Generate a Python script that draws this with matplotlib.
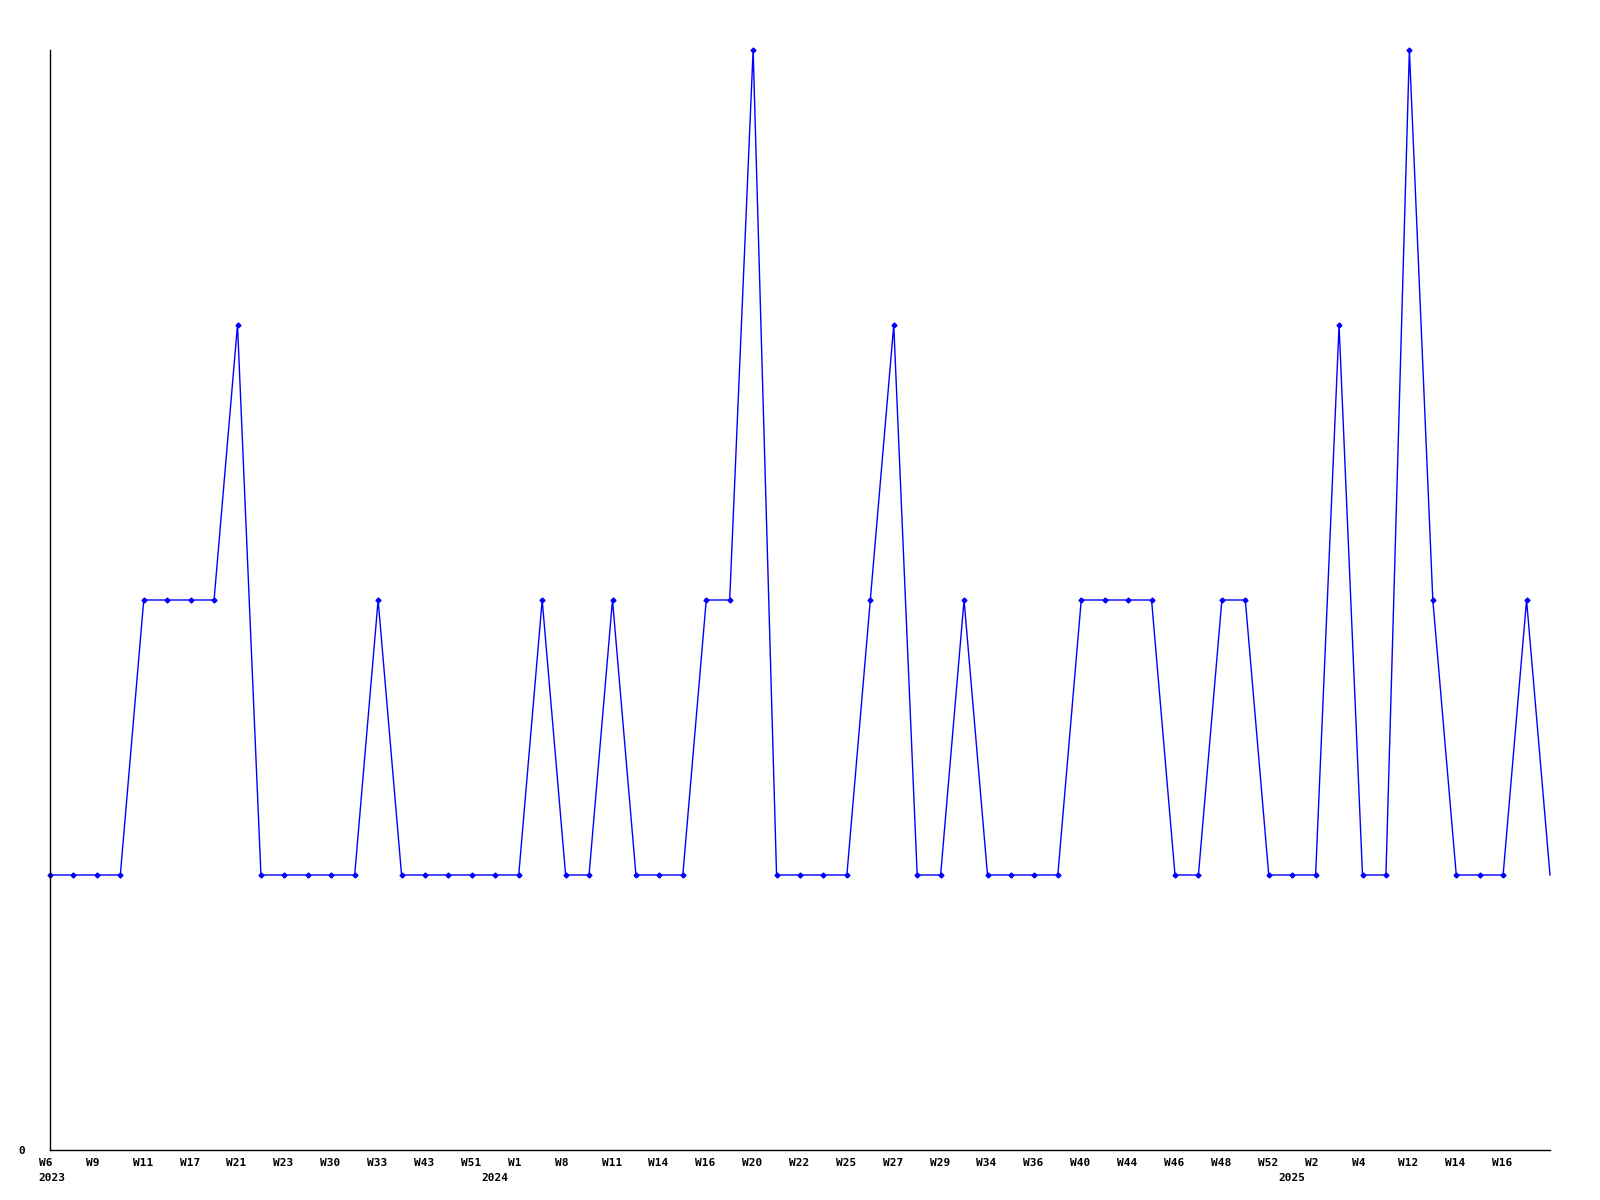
import numpy as np
import matplotlib
matplotlib.use('Agg')
import matplotlib.pyplot as plt
import matplotlib.transforms as mtransforms

# weekly values (65 weeks)
values = [1, 1, 1, 1, 2, 2, 2, 2, 3, 1, 1, 1, 1, 1, 2, 1, 1, 1, 1, 1,
          1, 2, 1, 1, 2, 1, 1, 1, 2, 2, 4, 1, 1, 1, 1, 2, 3, 1, 1, 2,
          1, 1, 1, 1, 2, 2, 2, 2, 1, 1, 2, 2, 1, 1, 1, 3, 1, 1, 4, 2,
          1, 1, 1, 2, 1]

# week labels, every other point
week_labels = ['W6', 'W9', 'W11', 'W17', 'W21', 'W23', 'W30', 'W33', 'W43', 'W51',
               'W1', 'W8', 'W11', 'W14', 'W16', 'W20', 'W22', 'W25', 'W27', 'W29',
               'W34', 'W36', 'W40', 'W44', 'W46', 'W48', 'W52', 'W2', 'W4', 'W12',
               'W14', 'W16']
week_label_idx = list(range(0, 64, 2))

years = ['2023', '2024', '2025']
year_idx = [0.1, 19, 53]

x = np.arange(len(values))

fig = plt.figure(figsize=(16, 12), dpi=100)
ax = fig.add_axes([50 / 1600, 50 / 1200, 1500 / 1600, 1100 / 1200])

# last point has no marker in the original
ax.plot(x, values, color='#0000ff', lw=1, marker='D', markersize=2.5,
        markevery=list(range(len(values) - 1)), clip_on=False)

ax.set_xlim(0, len(values) - 1)
ax.set_ylim(0, 4)

for s in ['top', 'right']:
    ax.spines[s].set_visible(False)
for s in ['left', 'bottom']:
    ax.spines[s].set_linewidth(1)
    ax.spines[s].set_color('black')

ax.set_xticks([])
ax.set_yticks([0])
ax.set_yticklabels(['0'], fontfamily='DejaVu Sans Mono', fontweight='bold', fontsize=8)
ax.tick_params(axis='y', length=0, pad=18)

font = dict(fontfamily='DejaVu Sans Mono', fontweight='bold', fontsize=8)

# week labels, left anchored a bit left of the point
off = mtransforms.ScaledTranslation(-11 / 100, -13 / 100, fig.dpi_scale_trans)
tr = ax.get_xaxis_transform() + off
for i, lab in zip(week_label_idx, week_labels):
    ax.text(i, 0, lab, transform=tr, ha='left', va='center', **font)

off2 = mtransforms.ScaledTranslation(0, -28 / 100, fig.dpi_scale_trans)
tr2 = ax.get_xaxis_transform() + off2
for i, lab in zip(year_idx, years):
    ax.text(i, 0, lab, transform=tr2, ha='center', va='center', **font)

plt.savefig('out.png', dpi=100)
plt.close()
